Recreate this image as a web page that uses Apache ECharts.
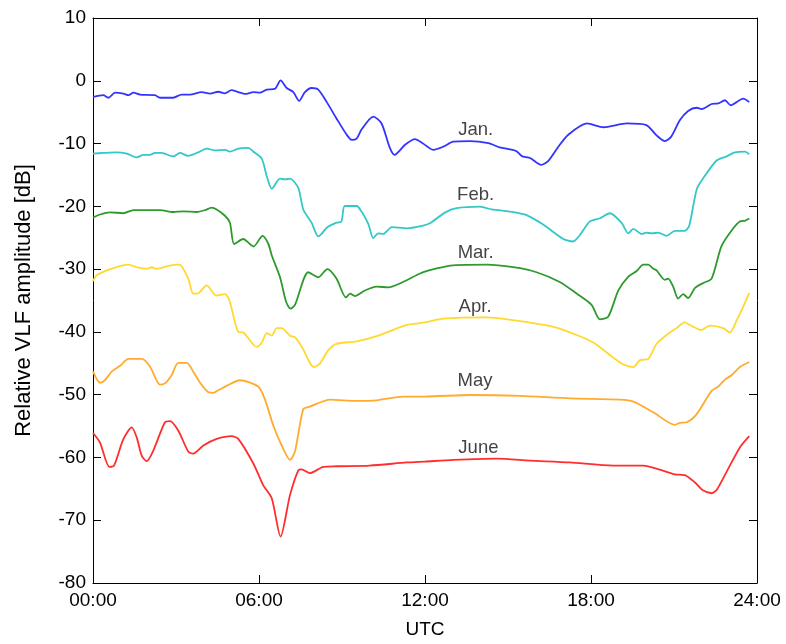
<!DOCTYPE html>
<html>
<head>
<meta charset="utf-8">
<script src="https://cdn.jsdelivr.net/npm/echarts@6/dist/echarts.min.js"></script>
<style>
  html, body { margin: 0; padding: 0; background: #fff; }
  #chart { width: 786px; height: 644px; }
</style>
</head>
<body>
<div id="chart"></div>
<script>
// Daily VLF amplitude curves, one per month: [UTC hour, dB]
const jan = [[0,-2.6],[0.37,-2.3],[0.55,-2.7],[0.8,-1.9],[1.1,-2.05],[1.28,-2.3],[1.46,-1.9],[1.7,-2.2],[2.24,-2.3],[2.42,-2.7],[2.9,-2.7],[3.2,-2.2],[3.5,-2.2],[3.93,-1.8],[4.23,-2.05],[4.53,-1.75],[4.77,-2.0],[5.0,-1.5],[5.25,-1.8],[5.5,-2.1],[5.8,-1.8],[6.03,-1.9],[6.28,-1.4],[6.58,-1.26],[6.78,0.05],[7.0,-1.15],[7.24,-1.8],[7.45,-3.2],[7.66,-1.8],[7.9,-1.15],[8.14,-1.4],[8.45,-3.4],[8.8,-6.0],[9.17,-8.6],[9.35,-9.4],[9.53,-9.2],[9.7,-7.8],[10.13,-5.7],[10.43,-6.8],[10.73,-10.7],[10.9,-11.8],[11.28,-10.2],[11.64,-9.3],[11.9,-9.9],[12.3,-11.0],[12.66,-10.5],[13.02,-9.7],[13.63,-9.6],[14.29,-9.95],[14.7,-10.6],[15.3,-11.2],[15.5,-12.0],[15.8,-12.3],[16.2,-13.4],[16.45,-12.8],[16.82,-10.5],[17.18,-8.6],[17.85,-6.8],[18.45,-7.4],[19.3,-6.8],[20.0,-7.05],[20.37,-8.7],[20.67,-9.6],[20.9,-8.9],[21.21,-6.3],[21.51,-4.8],[21.82,-4.3],[22.0,-4.5],[22.36,-3.7],[22.6,-3.6],[22.84,-3.1],[23.05,-3.9],[23.5,-2.85],[23.72,-3.4]];

const feb = [[0,-11.6],[0.37,-11.5],[0.86,-11.4],[1.22,-11.6],[1.58,-12.2],[1.82,-11.8],[2.06,-11.8],[2.24,-11.5],[2.48,-11.5],[2.9,-12.05],[3.14,-11.5],[3.44,-11.95],[3.8,-11.4],[4.11,-10.8],[4.41,-11.1],[4.77,-11.0],[4.95,-11.3],[5.25,-10.8],[5.61,-10.7],[5.8,-11.3],[6.1,-12.4],[6.28,-15.2],[6.46,-17.2],[6.76,-15.6],[6.95,-15.7],[7.12,-15.6],[7.42,-17.05],[7.6,-20.5],[7.9,-22.6],[8.14,-24.8],[8.26,-24.4],[8.45,-23.4],[8.8,-22.6],[8.98,-22.4],[9.1,-19.95],[9.53,-19.95],[9.7,-20.8],[9.95,-22.8],[10.13,-25.05],[10.31,-24.3],[10.49,-24.4],[10.8,-23.3],[11.34,-23.5],[11.9,-23.1],[12.18,-22.7],[12.72,-21.0],[13.14,-20.3],[13.99,-20.05],[14.41,-20.5],[15.01,-20.8],[15.31,-21.0],[15.67,-21.4],[16.27,-22.9],[17.0,-25.2],[17.34,-25.6],[17.96,-22.4],[18.32,-21.9],[18.68,-21.1],[19.1,-22.6],[19.35,-24.3],[19.53,-23.6],[19.83,-24.4],[20.0,-24.2],[20.19,-24.3],[20.43,-24.2],[20.73,-24.7],[21.03,-23.9],[21.39,-23.9],[21.55,-23.1],[21.82,-17.3],[22.06,-15.5],[22.54,-12.7],[22.9,-12.05],[23.2,-11.4],[23.56,-11.3],[23.72,-11.7]];

const mar = [[0,-21.8],[0.25,-21.3],[0.61,-20.95],[1.1,-21.1],[1.46,-20.6],[2.06,-20.6],[2.42,-20.6],[2.9,-20.9],[3.26,-20.8],[3.75,-20.9],[4.05,-20.6],[4.29,-20.2],[4.47,-20.5],[4.77,-21.5],[4.95,-22.6],[5.1,-26.0],[5.43,-25.2],[5.8,-26.4],[6.13,-24.7],[6.34,-26.0],[6.46,-27.8],[6.76,-31.3],[6.98,-35.2],[7.14,-36.3],[7.3,-35.7],[7.78,-30.5],[8.14,-31.3],[8.47,-30.0],[8.8,-31.5],[9.14,-34.5],[9.29,-33.9],[9.47,-34.3],[9.83,-33.4],[10.25,-32.8],[10.67,-32.9],[11.28,-31.9],[11.82,-30.7],[12.42,-29.9],[13.02,-29.4],[14.23,-29.3],[15.19,-29.7],[16.03,-30.5],[16.87,-32.05],[17.48,-33.9],[18.02,-35.7],[18.32,-38.0],[18.62,-37.6],[18.99,-33.4],[19.35,-31.2],[19.65,-30.3],[19.89,-29.3],[20.07,-29.3],[20.25,-29.95],[20.37,-30.2],[20.67,-31.7],[20.79,-31.5],[20.97,-32.8],[21.15,-34.7],[21.33,-34.0],[21.51,-34.6],[21.76,-33.0],[22.06,-32.2],[22.36,-31.5],[22.72,-26.3],[23.14,-23.5],[23.38,-22.4],[23.56,-22.3],[23.72,-21.95]];

const apr = [[0,-31.9],[0.13,-31.0],[0.5,-30.2],[0.91,-29.6],[1.28,-29.3],[1.58,-29.7],[1.94,-29.95],[2.12,-29.7],[2.3,-29.95],[2.72,-29.5],[3.12,-29.3],[3.44,-31.5],[3.62,-33.9],[3.77,-33.9],[4.11,-32.6],[4.45,-34.2],[4.77,-34.0],[4.93,-34.95],[5.25,-40.0],[5.43,-40.1],[5.8,-42.05],[5.92,-42.4],[6.1,-41.7],[6.28,-40.2],[6.46,-40.6],[6.64,-39.4],[6.82,-39.4],[7.12,-40.6],[7.3,-40.85],[7.6,-42.8],[7.84,-44.95],[7.99,-45.6],[8.2,-45.05],[8.5,-42.95],[8.8,-41.9],[9.53,-41.5],[10.37,-40.5],[11.34,-38.9],[12.0,-38.5],[12.66,-37.9],[14.23,-37.7],[15.43,-38.3],[16.64,-39.2],[17.48,-40.5],[18.08,-41.7],[18.75,-43.9],[19.17,-45.2],[19.53,-45.6],[19.77,-44.5],[20.07,-44.3],[20.37,-41.9],[20.73,-40.5],[21.09,-39.4],[21.39,-38.5],[21.57,-38.9],[21.99,-39.7],[22.3,-39.0],[22.78,-39.4],[23.02,-40.1],[23.26,-38.2],[23.5,-36.0],[23.72,-33.8]];

const may = [[0,-46.3],[0.25,-48.1],[0.43,-47.7],[0.68,-46.3],[0.98,-45.4],[1.28,-44.3],[1.76,-44.3],[2.06,-45.5],[2.42,-48.4],[2.6,-48.2],[2.84,-46.9],[3.08,-44.95],[3.39,-44.95],[3.62,-46.3],[3.87,-48.1],[4.17,-49.6],[4.35,-49.7],[4.53,-49.3],[4.83,-48.6],[5.31,-47.7],[5.97,-48.7],[6.21,-50.7],[6.52,-54.95],[6.82,-58.1],[7.12,-60.4],[7.3,-59.05],[7.6,-52.3],[7.84,-51.9],[8.57,-50.8],[9.53,-51.0],[10.25,-50.9],[11.21,-50.3],[12.0,-50.3],[13.63,-50.05],[15.43,-50.2],[17.24,-50.6],[19.05,-50.8],[19.53,-51.1],[20.25,-52.8],[21.03,-54.8],[21.21,-54.5],[21.46,-54.4],[21.82,-53.1],[22.36,-49.4],[22.6,-48.7],[22.84,-47.6],[23.08,-46.9],[23.38,-45.6],[23.72,-44.8]];

const june = [[0,-56.1],[0.25,-57.6],[0.59,-61.5],[0.76,-61.3],[1.1,-57.05],[1.4,-55.2],[1.58,-56.8],[1.76,-59.7],[1.94,-60.6],[2.18,-58.9],[2.6,-54.4],[2.78,-54.2],[3.08,-55.7],[3.44,-59.05],[3.62,-59.4],[3.99,-58.1],[4.47,-57.05],[5.01,-56.6],[5.25,-57.05],[5.8,-61.0],[6.15,-64.4],[6.46,-66.5],[6.78,-72.6],[7.12,-66.0],[7.42,-62.05],[7.54,-61.9],[7.84,-62.5],[8.32,-61.5],[8.8,-61.4],[10.0,-61.3],[11.34,-60.8],[12.0,-60.65],[13.02,-60.4],[14.59,-60.2],[15.79,-60.5],[17.24,-60.8],[18.8,-61.3],[19.89,-61.3],[20.49,-61.95],[21.03,-62.7],[21.39,-62.8],[21.76,-64.0],[22.03,-65.2],[22.36,-65.7],[22.54,-65.2],[22.9,-62.3],[23.38,-58.4],[23.72,-56.6]];

// Month names and where each name sits (UTC hour, dB)
const monthNames = ['Jan.', 'Feb.', 'Mar.', 'Apr.', 'May', 'June'];
const labelHours = [13.83, 13.83, 13.83, 13.81, 13.81, 13.93];
const labelValues = [-7.85, -18.15, -27.45, -35.95, -47.85, -58.55];

const monthData = [jan, feb, mar, apr, may, june];
const lineColors = ['#3333ff', '#33c8c8', '#2e9a2e', '#ffd92e', '#ffab2e', '#ff2e2e'];

const FONT = 'Liberation Sans, Arial, Helvetica, sans-serif';
const chart = echarts.init(document.getElementById('chart'));

const pad2 = n => (n < 10 ? '0' : '') + n;

const lineSeries = monthData.map((d, i) => ({
  type: 'line',
  name: monthNames[i],
  data: d,
  xAxisIndex: 0,
  yAxisIndex: 0,
  showSymbol: false,
  smooth: 0.25,
  lineStyle: { color: lineColors[i], width: 1.8 },
  silent: true,
  animation: false
}));

const labelSeries = {
  type: 'scatter',
  xAxisIndex: 0,
  yAxisIndex: 0,
  symbolSize: 0,
  silent: true,
  animation: false,
  data: monthNames.map((n, i) => ({ value: [labelHours[i], labelValues[i]], name: n })),
  label: {
    show: true,
    position: 'inside',
    formatter: p => p.name,
    color: '#111',
    fontFamily: FONT,
    fontSize: 18.5
  }
};

const axisLine = { show: true, onZero: false, lineStyle: { color: '#000', width: 1 } };
const tick = { show: true, inside: true, length: 8, lineStyle: { color: '#000' } };

chart.setOption({
  backgroundColor: '#fff',
  animation: false,
  grid: { left: 93, top: 18, width: 664, height: 570, containLabel: false },
  xAxis: [
    {
      type: 'value', min: 0, max: 24, interval: 6, position: 'bottom',
      name: 'UTC', nameLocation: 'middle', nameGap: 37,
      nameTextStyle: { color: '#000', fontFamily: FONT, fontSize: 19 },
      axisLine, splitLine: { show: false }, axisTick: tick,
      axisLabel: { color: '#000', fontFamily: FONT, fontSize: 19, margin: 8,
        formatter: v => pad2(v) + ':00' }
    },
    {
      type: 'value', min: 0, max: 24, interval: 6, position: 'top',
      axisLine, splitLine: { show: false }, axisTick: tick,
      axisLabel: { show: false }
    }
  ],
  yAxis: [
    {
      type: 'value', min: -80, max: 10, interval: 10, position: 'left',
      name: 'Relative VLF amplitude [dB]', nameLocation: 'middle', nameGap: 58,
      nameRotate: 90,
      nameTextStyle: { color: '#000', fontFamily: FONT, fontSize: 22 },
      axisLine, splitLine: { show: false }, axisTick: tick,
      axisLabel: { color: '#000', fontFamily: FONT, fontSize: 19, margin: 7 }
    },
    {
      type: 'value', min: -80, max: 10, interval: 10, position: 'right',
      axisLine, splitLine: { show: false }, axisTick: tick,
      axisLabel: { show: false }
    }
  ],
  series: [...lineSeries, labelSeries]
});
</script>
</body>
</html>
